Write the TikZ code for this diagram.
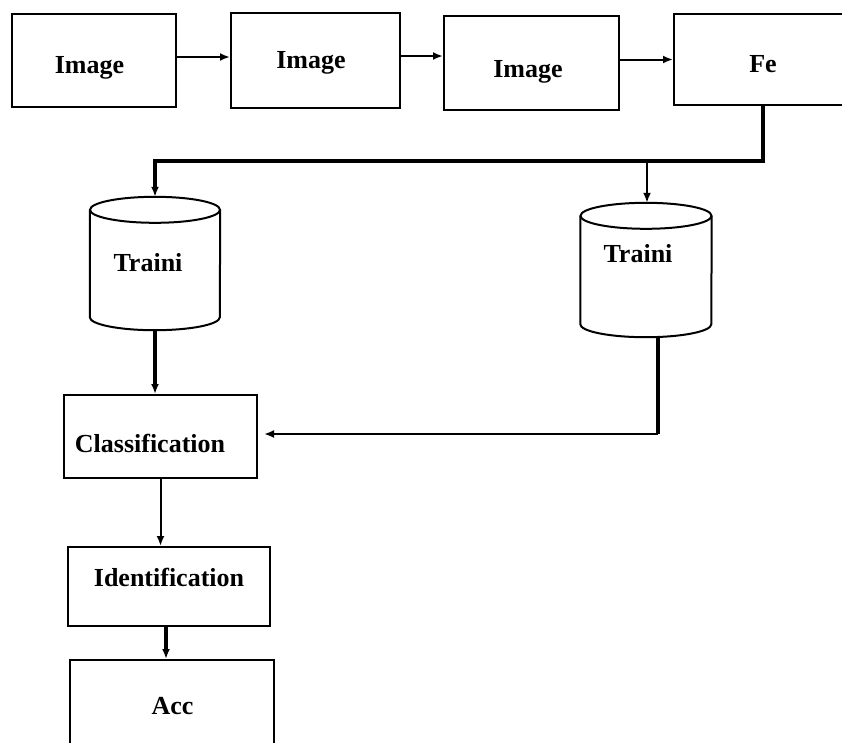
\documentclass[tikz,border=0pt]{standalone}
\usepackage{fontspec}
\setmainfont{Liberation Serif}
\usetikzlibrary{arrows.meta}

\tikzset{
  stage/.style={draw, line width=2pt, inner sep=0pt},
  hold/.style={inner sep=0pt},
  store/.style={line width=2pt},
  txt/.style={font=\fontsize{26}{30}\selectfont\bfseries, inner sep=0pt},
  flow/.style={line width=2pt, -{Latex[length=10pt,width=8pt]}},
  bus/.style={line width=3.4pt},
}

\begin{document}
\begin{tikzpicture}[x=1pt,y=-1pt]
\useasboundingbox (0,0) rectangle (842,742);
\clip (0,0) rectangle (842,742);
%%Blocks
\node[stage, minimum width=164pt, minimum height=93pt] (img1) at (94,60.5) {};
\node[stage, minimum width=169pt, minimum height=95pt] (img2) at (315.5,60.5) {};
\node[stage, minimum width=175pt, minimum height=94pt] (img3) at (531.5,63) {};
\node[stage, minimum width=178pt, minimum height=91pt] (fe) at (763,59.5) {};
\node[stage, minimum width=193pt, minimum height=83pt] (cls) at (160.5,436.5) {};
\node[stage, minimum width=202pt, minimum height=79pt] (idf) at (169,586.5) {};
\node[stage, minimum width=204pt, minimum height=102pt] (acc) at (172,711) {};

%%Stores
\node[hold, minimum width=130pt, minimum height=133pt] (cyl1) at (155,263.5) {};
\node[hold, minimum width=131pt, minimum height=134pt] (cyl2) at (646,270) {};
\draw[store] ([yshift=-13pt]cyl1.north west) -- ([yshift=13pt]cyl1.south west)
  arc[start angle=180, end angle=360, x radius=65pt, y radius=13pt] -- ([yshift=-13pt]cyl1.north east);
\draw[store] ([yshift=-13pt]cyl1.north) ellipse [x radius=65pt, y radius=13pt];
\draw[store] ([yshift=-13pt]cyl2.north west) -- ([yshift=13pt]cyl2.south west)
  arc[start angle=180, end angle=360, x radius=65.5pt, y radius=13pt] -- ([yshift=-13pt]cyl2.north east);
\draw[store] ([yshift=-13pt]cyl2.north) ellipse [x radius=65.5pt, y radius=13pt];

%%Labels
\draw (89.5,68) node[txt] (img1t) {Image};
\draw (311,63) node[txt] (img2t) {Image};
\draw (528,71.5) node[txt] (img3t) {Image};
\draw (763,64) node[txt] (fet) {Fe};
\draw (148,262.5) node[txt] (cyl1t) {Traini};
\draw (638,254) node[txt] (cyl2t) {Traini};
\draw (150,443) node[txt] (clst) {Classification};
\draw (169,577.5) node[txt] (idft) {Identification};
\draw (172.5,706) node[txt] (acct) {Acc};

%%Connectors
\coordinate (split) at (647,161);
\coordinate (turn) at (658,434);
\coordinate (a1) at ([yshift=3.5pt]img1.east);
\coordinate (a2) at ([yshift=4.5pt]img2.east);
\coordinate (a3) at (turn -| cls.east);
\draw[flow] (a1) -- (a1 -| img2.west);
\draw[flow] (a2) -- (a2 -| img3.west);
\draw[flow] (img3.east |- fe.west) -- (fe.west);
\draw[bus, -{Latex[length=10pt,width=8pt]}] (fe.south) |- (split) -| (cyl1.north);
\draw[flow] (split) -- (split |- cyl2.north);
\draw[bus, -{Latex[length=10pt,width=8pt]}] (cyl1.south) -- (cyl1.south |- cls.north);
\draw[bus] (cyl2.south -| turn) -- (turn);
\draw[flow] (turn) -- ([xshift=6pt]a3);
\draw[flow] (cls.south) -- (cls.south |- idf.north);
\draw[bus, -{Latex[length=10pt,width=8pt]}] ([xshift=-3pt]idf.south) -- ([xshift=-3pt]idf.south |- acc.north);
\end{tikzpicture}
\end{document}
